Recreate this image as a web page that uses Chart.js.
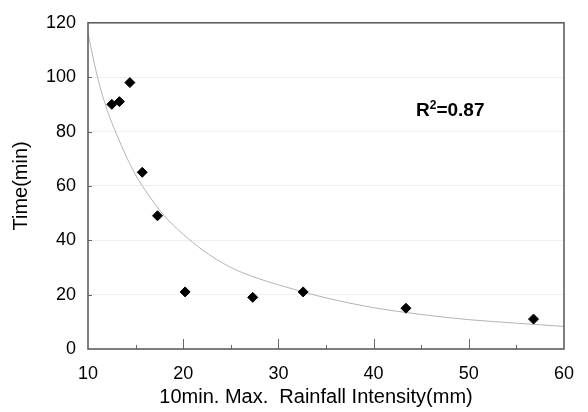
<!DOCTYPE html>
<html>
<head>
<meta charset="utf-8">
<script src="https://cdn.jsdelivr.net/npm/chart.js@4"></script>
<style>
  html, body { margin: 0; padding: 0; background: #fff; }
  canvas { display: block; }
</style>
</head>
<body>
<canvas id="chart" width="588" height="412"></canvas>
<script>
// observed points
const intensity = [12.5, 13.3, 14.4, 15.7, 17.3, 20.2, 27.3, 32.6, 43.4, 56.8];
const timeMin = [90, 91, 98, 65, 49, 21, 19, 21, 15, 11];

// fitted curve
const fitX = [10, 11, 12, 13, 14, 15, 16, 17, 18, 20, 22, 25, 28, 32, 35, 40, 45, 50, 55, 60];
const fitY = [116, 100, 88, 79, 71, 64, 58.5, 53.5, 49, 42.2, 36.5, 30, 25.8, 21.6, 18.8, 15.2, 12.7, 10.8, 9.5, 8.3];

const xTicks = [10, 20, 30, 40, 50, 60];
const yTicks = [0, 20, 40, 60, 80, 100, 120];
const r2Label = '0.87';
const xTitle = '10min. Max.  Rainfall Intensity(mm)';
const yTitle = 'Time(min)';

const FONT = "'Liberation Sans', Arial, sans-serif";

// frame, inside tick marks, axis titles and R² label
const framePlugin = {
  id: 'frame',
  afterDraw(chart) {
    const ctx = chart.ctx;
    const a = chart.chartArea;
    const xs = chart.scales.x, ys = chart.scales.y;
    ctx.save();
    ctx.strokeStyle = '#666';
    ctx.lineWidth = 1;
    // inside ticks on x axis
    for (let v = 15; v < 60; v += 5) {
      const px = Math.round(xs.getPixelForValue(v)) + 0.5;
      const len = v % 10 === 0 ? 10 : 4;
      ctx.beginPath();
      ctx.moveTo(px, a.bottom);
      ctx.lineTo(px, a.bottom - len);
      ctx.stroke();
    }
    // inside ticks on y axis
    yTicks.slice(1, -1).forEach(v => {
      const py = Math.round(ys.getPixelForValue(v)) + 0.5;
      ctx.beginPath();
      ctx.moveTo(a.left, py);
      ctx.lineTo(a.left + 4, py);
      ctx.stroke();
    });
    ctx.strokeStyle = '#555';
    ctx.lineWidth = 1.5;
    ctx.strokeRect(a.left, a.top, a.right - a.left, a.bottom - a.top);

    ctx.fillStyle = '#000';
    // axis titles
    ctx.font = '20px ' + FONT;
    ctx.textAlign = 'center';
    ctx.textBaseline = 'middle';
    ctx.fillText(xTitle, 316, 397);
    ctx.save();
    ctx.translate(21, (a.top + a.bottom) / 2);
    ctx.rotate(-Math.PI / 2);
    ctx.fillText(yTitle, 0, 0);
    ctx.restore();

    // R² label
    ctx.textBaseline = 'alphabetic';
    ctx.textAlign = 'left';
    let x = 416, y = 116;
    ctx.font = 'bold 19px ' + FONT;
    ctx.fillText('R', x, y);
    x += ctx.measureText('R').width;
    ctx.font = 'bold 12px ' + FONT;
    ctx.fillText('2', x, y - 7);
    x += ctx.measureText('2').width;
    ctx.font = 'bold 19px ' + FONT;
    ctx.fillText('=' + r2Label, x, y);
    ctx.restore();
  }
};

new Chart(document.getElementById('chart').getContext('2d'), {
  type: 'scatter',
  data: {
    datasets: [
      {
        label: 'fit',
        type: 'line',
        data: fitX.map((x, i) => ({ x: x, y: fitY[i] })),
        borderColor: '#b4b4b4',
        borderWidth: 1,
        pointRadius: 0,
        fill: false,
        cubicInterpolationMode: 'monotone',
        order: 2
      },
      {
        label: 'Time',
        data: intensity.map((x, i) => ({ x: x, y: timeMin[i] })),
        pointStyle: 'rectRot',
        pointRadius: 5,
        backgroundColor: '#000',
        borderColor: '#000',
        borderWidth: 1,
        order: 1
      }
    ]
  },
  plugins: [framePlugin],
  options: {
    responsive: false,
    animation: false,
    layout: { padding: { top: 15, right: 22, left: 0, bottom: 0 } },
    plugins: { legend: { display: false }, tooltip: { enabled: false } },
    scales: {
      x: {
        type: 'linear',
        min: 10, max: 60,
        afterBuildTicks: s => { s.ticks = xTicks.map(v => ({ value: v })); },
        afterFit: s => { s.height = 63; },
        grid: { display: false, drawTicks: false },
        border: { display: false },
        ticks: { color: '#000', padding: 14, font: { family: FONT, size: 18 } }
      },
      y: {
        min: 0, max: 120,
        afterBuildTicks: s => { s.ticks = yTicks.map(v => ({ value: v })); },
        afterFit: s => { s.width = 88; },
        grid: { color: '#efefef', drawTicks: false, lineWidth: 1 },
        border: { display: false },
        ticks: { color: '#000', padding: 12, font: { family: FONT, size: 18 } }
      }
    }
  }
});
</script>
</body>
</html>
